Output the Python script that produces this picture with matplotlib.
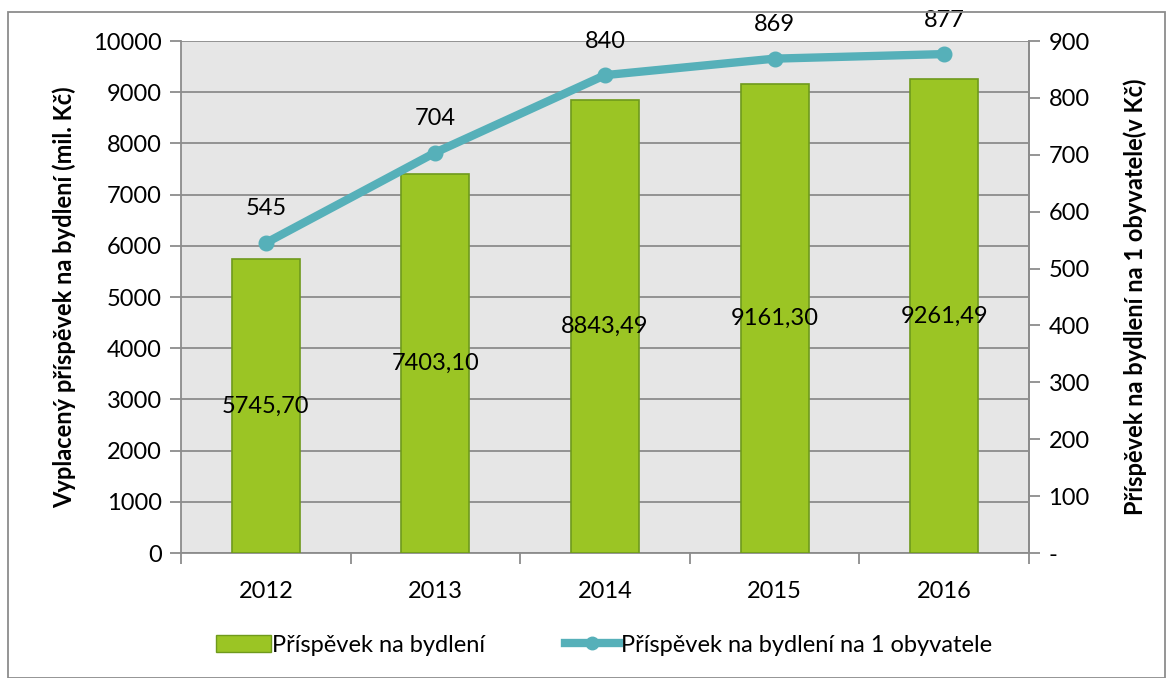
import matplotlib.pyplot as plt
from matplotlib.patches import Rectangle
from matplotlib.lines import Line2D
from matplotlib.patches import Patch

plt.rcParams['font.family'] = ['Lato', 'DejaVu Sans']

roky = ['2012', '2013', '2014', '2015', '2016']
prispevek = [5745.70, 7403.10, 8843.49, 9161.30, 9261.49]
na_obyvatele = [545, 704, 840, 869, 877]

bar_barva = '#9BC524'
bar_okraj = '#6F9A1C'
cara_barva = '#56B0B9'
sediva = '#8C8C8C'

fig = plt.figure(figsize=(11.7, 6.78), dpi=100)
ax = fig.add_axes([181 / 1170, 1 - 553 / 678, 848 / 1170, 512 / 678])
ax2 = ax.twinx()

x = list(range(len(roky)))
ax.bar(x, prispevek, width=0.4, color=bar_barva, edgecolor=bar_okraj, linewidth=1.2, zorder=3)
for xi, v in zip(x, prispevek):
    ax.text(xi, v / 2, f'{v:.2f}'.replace('.', ','), ha='center', va='center',
            fontsize=17, zorder=5)

ax.set_facecolor('#E6E6E6')
ax.set_xlim(-0.5, len(roky) - 0.5)
ax.set_ylim(0, 10000)
ax.set_yticks(range(0, 10001, 1000))
ax.grid(axis='y', color=sediva, linewidth=1.3, zorder=0)
ax.set_axisbelow(True)
ax.set_xticks(x)
ax.set_xticklabels(roky)
ax.set_xticks([i - 0.5 for i in range(len(roky) + 1)], minor=True)
ax.tick_params(axis='x', which='major', length=0, pad=20, labelsize=17)
ax.tick_params(axis='x', which='minor', length=8, color=sediva, width=1.3)
ax.tick_params(axis='y', length=8, color=sediva, width=1.3, labelsize=17, pad=6)
ax.spines['top'].set_visible(False)
for s in ['left', 'bottom', 'right']:
    ax.spines[s].set_color(sediva)
    ax.spines[s].set_linewidth(1.3)
ax.set_ylabel('Vyplacený příspěvek na bydlení (mil. Kč)', fontsize=17, fontweight='bold', labelpad=12)

ax2.plot(x, na_obyvatele, color=cara_barva, linewidth=6, marker='o', markersize=10.5, zorder=4)
for xi, v in zip(x, na_obyvatele):
    ax2.annotate(str(v), (xi, v), xytext=(0, 34), textcoords='offset pixels',
                 ha='center', va='center', fontsize=17, annotation_clip=False)
ax2.set_ylim(0, 900)
ax2.set_yticks(range(0, 901, 100))
ax2.set_yticklabels(['-'] + [str(v) for v in range(100, 901, 100)])
ax2.tick_params(axis='y', length=8, color=sediva, width=1.3, labelsize=17, pad=6)
for s in ['top', 'left', 'bottom']:
    ax2.spines[s].set_visible(False)
ax2.spines['right'].set_color(sediva)
ax2.spines['right'].set_linewidth(1.3)
ax2.set_ylabel('Příspěvek na bydlení na 1 obyvatele(v Kč)', fontsize=17, fontweight='bold', labelpad=24)

handles = [Patch(facecolor=bar_barva, edgecolor=bar_okraj),
           Line2D([0], [0], color=cara_barva, linewidth=6, marker='o', markersize=9)]
fig.legend(handles, ['Příspěvek na bydlení', 'Příspěvek na bydlení na 1 obyvatele'],
           loc='center', bbox_to_anchor=(604 / 1170, 1 - 645 / 678), ncol=2, frameon=False,
           fontsize=17, handlelength=2.3, handletextpad=0.05, columnspacing=3.4)

fig.patches.append(Rectangle((8 / 1170, 0.0), 1157 / 1170, 1 - 12 / 678, transform=fig.transFigure,
                             fill=False, edgecolor=sediva, linewidth=1.3))

fig.savefig('out.png', dpi=100)
